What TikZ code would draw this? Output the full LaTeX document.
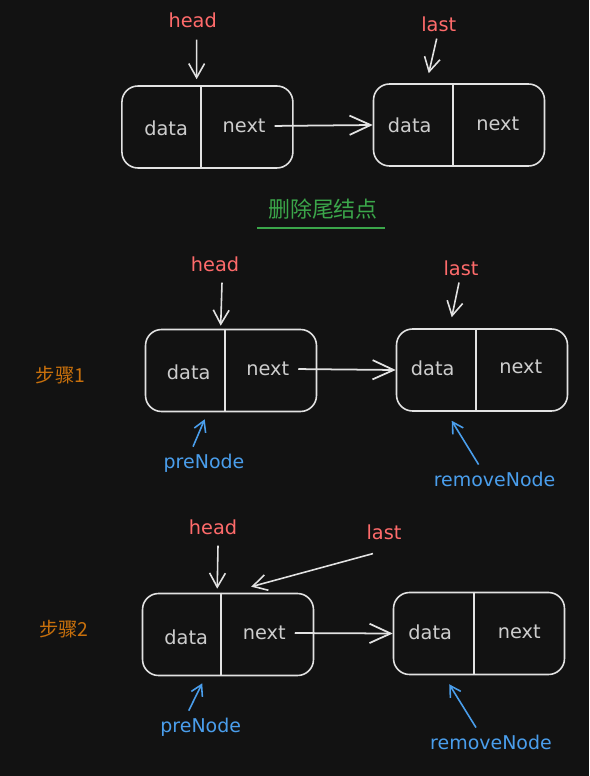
\documentclass[tikz,border=0pt]{standalone}
\usepackage{fontspec}
\setmainfont{DejaVu Sans}
\newfontfamily\cjk{Noto Sans CJK SC}
\usetikzlibrary{arrows.meta}
\definecolor{bgcol}{HTML}{121212}
\definecolor{linecol}{HTML}{E2E2E2}
\definecolor{fieldcol}{HTML}{CDCDCD}
\definecolor{ptrred}{HTML}{FF6B6B}
\definecolor{ptrblue}{HTML}{4A9EEC}
\definecolor{stepcol}{HTML}{C8700C}
\definecolor{titlecol}{HTML}{3BA64A}
\tikzset{
  listnode/.style={draw=linecol, line width=0.9pt, rounded corners=0.32cm, minimum width=3.42cm, minimum height=1.64cm, inner sep=0pt},
  field/.style={text=fieldcol, font=\fontsize{11}{13}\selectfont, inner sep=2pt},
  redlabel/.style={text=ptrred, font=\fontsize{11}{13}\selectfont, inner sep=1pt},
  bluelabel/.style={text=ptrblue, font=\fontsize{10.8}{13}\selectfont, inner sep=1pt},
  steplabel/.style={text=stepcol, font=\cjk\fontsize{11}{13}\selectfont, inner sep=1pt},
  ptrarrow/.style={draw=linecol, line width=0.9pt, -{Straight Barb[length=8pt,width=9pt]}},
  bluearrow/.style={draw=ptrblue, line width=0.9pt, -{Straight Barb[length=6pt,width=7pt]}},
  linkarrow/.style={draw=linecol, line width=1pt, -{Straight Barb[length=12pt,width=11pt]}}
}
\begin{document}
\begin{tikzpicture}[x=0.02cm, y=-0.02cm]
  \fill[bgcol] (0,0) rectangle (589,776);
  \useasboundingbox (0,0) rectangle (589,776);

  % row 1
  \node[listnode] (A) at (207.4,127) {}; \node[listnode] (B) at (459,125) {};
  \draw[linecol, line width=0.9pt] ([xshift=1.6cm]A.north west) -- ([xshift=1.6cm]A.south west);
  \draw[linecol, line width=0.9pt] ([xshift=1.6cm]B.north west) -- ([xshift=1.6cm]B.south west);
  \node[field] (Ad) at ([xshift=0.9cm,yshift=-0.03cm]A.west) {data}; \node[field] (An) at ([xshift=2.46cm,yshift=0.02cm]A.west) {next};
  \node[field] (Bd) at ([xshift=0.74cm]B.west) {data}; \node[field] (Bn) at ([xshift=2.5cm,yshift=0.02cm]B.west) {next};
  \node[redlabel] (h1) at (192.7,20) {head}; \node[redlabel] (l1) at (438.7,24) {last};
  \draw[ptrarrow] ([xshift=0.08cm,yshift=-0.2cm]h1.south) -- ([xshift=1.51cm,yshift=0.12cm]A.north west);
  \draw[ptrarrow] ([xshift=-0.04cm,yshift=-0.1cm]l1.south) -- ([xshift=1.12cm,yshift=0.2cm]B.north west);
  \draw[linkarrow, shorten <=3pt] (An.east) -- (B.west);

  \node[text=titlecol, font=\cjk\fontsize{12.5}{14}\selectfont] (title) at (323,209) {删除尾结点};
  \draw[titlecol, line width=1.1pt] (257,228) -- (385,228);

  % step 1
  \node[steplabel] (s1) at (60.5,375) {步骤1};
  \node[listnode] (C) at (231,370.5) {}; \node[listnode] (D) at (482,370) {};
  \draw[linecol, line width=0.9pt] ([xshift=1.61cm]C.north west) -- ([xshift=1.61cm]C.south west);
  \draw[linecol, line width=0.9pt] ([xshift=1.6cm]D.north west) -- ([xshift=1.6cm]D.south west);
  \node[field] (Cd) at ([xshift=0.88cm,yshift=-0.04cm]C.west) {data}; \node[field] (Cn) at ([xshift=2.46cm,yshift=0.03cm]C.west) {next};
  \node[field] (Dd) at ([xshift=0.74cm,yshift=0.04cm]D.west) {data}; \node[field] (Dn) at ([xshift=2.5cm,yshift=0.06cm]D.west) {next};
  \node[redlabel] (h2) at (215,264) {head}; \node[redlabel] (l2) at (461,268) {last};
  \draw[ptrarrow] ([xshift=0.14cm,yshift=-0.18cm]h2.south) -- ([xshift=1.52cm,yshift=0.06cm]C.north west);
  \draw[ptrarrow] ([xshift=-0.04cm,yshift=-0.1cm]l2.south) -- ([xshift=1.12cm,yshift=0.22cm]D.north west);
  \draw[linkarrow, shorten <=3pt] (Cn.east) -- (D.west);
  \node[bluelabel] (p1) at (204,463) {preNode}; \node[bluelabel] (r1) at (494.6,479) {removeNode};
  \draw[bluearrow] ([xshift=-0.22cm,yshift=0.1cm]p1.north) -- ([xshift=1.2cm,yshift=-0.14cm]C.south west);
  \draw[bluearrow] ([xshift=-0.32cm,yshift=0.1cm]r1.north) -- ([xshift=1.12cm,yshift=-0.18cm]D.south west);

  % step 2
  \node[steplabel] (s2) at (64,629) {步骤2};
  \node[listnode] (E) at (228,634.5) {}; \node[listnode] (F) at (479,633.5) {};
  \draw[linecol, line width=0.9pt] ([xshift=1.59cm]E.north west) -- ([xshift=1.59cm]E.south west);
  \draw[linecol, line width=0.9pt] ([xshift=1.62cm]F.north west) -- ([xshift=1.62cm]F.south west);
  \node[field] (Ed) at ([xshift=0.89cm,yshift=-0.05cm]E.west) {data}; \node[field] (En) at ([xshift=2.45cm,yshift=0.03cm]E.west) {next};
  \node[field] (Fd) at ([xshift=0.75cm,yshift=0.02cm]F.west) {data}; \node[field] (Fn) at ([xshift=2.53cm,yshift=0.03cm]F.west) {next};
  \node[redlabel] (h3) at (213,527) {head}; \node[redlabel] (l3) at (384,532) {last};
  \draw[ptrarrow] ([xshift=0.1cm,yshift=-0.18cm]h3.south) -- ([xshift=1.51cm,yshift=0.08cm]E.north west);
  \draw[ptrarrow] ([xshift=-0.22cm,yshift=-0.24cm]l3.south) -- ([xshift=2.19cm,yshift=0.12cm]E.north west);
  \draw[linkarrow, shorten <=3pt] (En.east) -- (F.west);
  \node[bluelabel] (p2) at (200.7,727) {preNode}; \node[bluelabel] (r2) at (491,742) {removeNode};
  \draw[bluearrow] ([xshift=-0.24cm,yshift=0.1cm]p2.north) -- ([xshift=1.21cm,yshift=-0.14cm]E.south west);
  \draw[bluearrow] ([xshift=-0.3cm,yshift=0.1cm]r2.north) -- ([xshift=1.13cm,yshift=-0.18cm]F.south west);
\end{tikzpicture}
\end{document}
